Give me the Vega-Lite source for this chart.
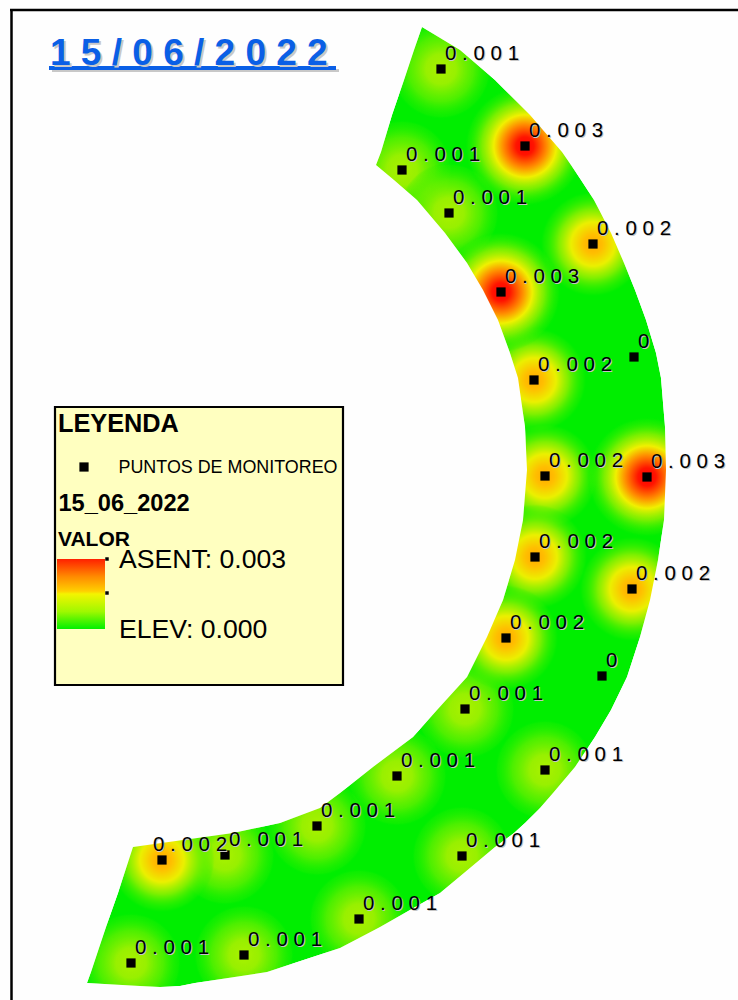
{
"$schema":"https://vega.github.io/schema/vega-lite/v6.json",
"width":738,"height":1000,
"autosize":{"type":"none"},
"padding":0,
"background":"#fefefe",
"config":{"view":{"stroke":null},"text":{"font":"Liberation Sans"}},
"datasets":{
"band":[
{"y":0,"l":422,"r":422},{"y":27,"l":422,"r":422},{"y":50,"l":414,"r":460},{"y":80,"l":404,"r":495},{"y":115,"l":392,"r":530},{"y":152,"l":381,"r":562},{"y":165,"l":376,"r":571},{"y":180,"l":394,"r":581},{"y":200,"l":417,"r":594},{"y":233,"l":445,"r":611},{"y":263,"l":467,"r":624},{"y":290,"l":483,"r":635},{"y":320,"l":498,"r":646},{"y":353,"l":510,"r":656},{"y":378,"l":518,"r":661},{"y":427,"l":525,"r":665},{"y":470,"l":527,"r":666},{"y":520,"l":523,"r":664},{"y":560,"l":515,"r":658},{"y":600,"l":503,"r":650},{"y":637,"l":487,"r":640},{"y":677,"l":467,"r":627},{"y":710,"l":437,"r":611},{"y":737,"l":413,"r":595},{"y":767,"l":373,"r":575},{"y":793,"l":340,"r":553},{"y":808,"l":320,"r":540},{"y":823,"l":280,"r":525},{"y":833,"l":233,"r":514},{"y":847,"l":133,"r":495},{"y":893,"l":118,"r":440},{"y":927,"l":106,"r":380},{"y":948,"l":99,"r":340},{"y":972,"l":91,"r":267},{"y":983,"l":87,"r":195},{"y":986,"l":140,"r":180},{"y":987,"l":160,"r":160},{"y":1000,"l":160,"r":160}
],
"points":[
{"x":441,"y":69,"value":0.001,"label":"0 . 0 0 1"},
{"x":525,"y":146,"value":0.003,"label":"0 . 0 0 3"},
{"x":402,"y":170,"value":0.001,"label":"0 . 0 0 1"},
{"x":449,"y":213,"value":0.001,"label":"0 . 0 0 1"},
{"x":593,"y":244,"value":0.002,"label":"0 . 0 0 2"},
{"x":501,"y":292,"value":0.003,"label":"0 . 0 0 3"},
{"x":634,"y":357,"value":0,"label":"0"},
{"x":534,"y":380,"value":0.002,"label":"0 . 0 0 2"},
{"x":545,"y":476,"value":0.002,"label":"0 . 0 0 2"},
{"x":647,"y":477,"value":0.003,"label":"0 . 0 0 3"},
{"x":535,"y":557,"value":0.002,"label":"0 . 0 0 2"},
{"x":632,"y":589,"value":0.002,"label":"0 . 0 0 2"},
{"x":506,"y":638,"value":0.002,"label":"0 . 0 0 2"},
{"x":602,"y":676,"value":0,"label":"0"},
{"x":465,"y":709,"value":0.001,"label":"0 . 0 0 1"},
{"x":545,"y":770,"value":0.001,"label":"0 . 0 0 1"},
{"x":397,"y":776,"value":0.001,"label":"0 . 0 0 1"},
{"x":317,"y":826,"value":0.001,"label":"0 . 0 0 1"},
{"x":225,"y":855,"value":0.001,"label":"0 . 0 0 1"},
{"x":162,"y":860,"value":0.002,"label":"0 . 0 0 2"},
{"x":462,"y":856,"value":0.001,"label":"0 . 0 0 1"},
{"x":359,"y":919,"value":0.001,"label":"0 . 0 0 1"},
{"x":244,"y":955,"value":0.001,"label":"0 . 0 0 1"},
{"x":131,"y":963,"value":0.001,"label":"0 . 0 0 1"}
]
},
"encoding":{
"x":{"field":"x","type":"quantitative","axis":null,"scale":{"domain":[0,738],"nice":false,"zero":false}},
"y":{"field":"y","type":"quantitative","axis":null,"scale":{"domain":[1000,0],"nice":false,"zero":false}}
},
"layer":[
{"data":{"name":"band"},"mark":{"type":"area","orient":"horizontal","color":"#00ee00"},
 "encoding":{"x":{"field":"l","type":"quantitative"},"x2":{"field":"r"}}},
{"data":{"name":"points"},"transform":[{"filter":"datum.value==0.001"}],
 "mark":{"type":"point","filled":true,"shape":"circle","size":10000,"opacity":1,
 "fill":{"gradient":"radial","x1":0.5,"y1":0.5,"r1":0,"x2":0.5,"y2":0.5,"r2":0.5,"stops":[
  {"offset":0,"color":"rgba(170,240,0,1)"},{"offset":0.3,"color":"rgba(160,240,0,0.95)"},{"offset":0.65,"color":"rgba(110,240,0,0.7)"},{"offset":0.95,"color":"rgba(50,240,0,0.25)"},{"offset":1,"color":"rgba(0,238,0,0)"}]}}},
{"data":{"name":"points"},"transform":[{"filter":"datum.value==0.002"}],
 "mark":{"type":"point","filled":true,"shape":"circle","size":11000,"opacity":1,
 "fill":{"gradient":"radial","x1":0.5,"y1":0.5,"r1":0,"x2":0.5,"y2":0.5,"r2":0.5,"stops":[
  {"offset":0,"color":"rgba(255,170,0,1)"},{"offset":0.18,"color":"rgba(255,190,0,1)"},{"offset":0.42,"color":"rgba(235,240,0,1)"},{"offset":0.65,"color":"rgba(150,240,0,0.85)"},{"offset":0.95,"color":"rgba(50,240,0,0.25)"},{"offset":1,"color":"rgba(0,238,0,0)"}]}}},
{"data":{"name":"points"},"transform":[{"filter":"datum.value==0.003"}],
 "mark":{"type":"point","filled":true,"shape":"circle","size":14400,"opacity":1,
 "fill":{"gradient":"radial","x1":0.5,"y1":0.5,"r1":0,"x2":0.5,"y2":0.5,"r2":0.5,"stops":[
  {"offset":0,"color":"rgba(255,0,0,1)"},{"offset":0.15,"color":"rgba(255,20,0,1)"},{"offset":0.36,"color":"rgba(255,140,0,1)"},{"offset":0.52,"color":"rgba(240,240,0,1)"},{"offset":0.72,"color":"rgba(150,240,0,0.8)"},{"offset":0.95,"color":"rgba(50,240,0,0.25)"},{"offset":1,"color":"rgba(0,238,0,0)"}]}}},
{"data":{"name":"band"},"mark":{"type":"area","orient":"horizontal","color":"#fefefe"},
 "encoding":{"x":{"field":"l","type":"quantitative"},"x2":{"datum":0}}},
{"data":{"name":"band"},"mark":{"type":"area","orient":"horizontal","color":"#fefefe"},
 "encoding":{"x":{"field":"r","type":"quantitative"},"x2":{"datum":738}}},
{"data":{"values":[{"x":11.5,"y":10,"y2":1000}]},"mark":{"type":"rule","color":"#000000","strokeWidth":2.5},"encoding":{"y2":{"field":"y2"}}},
{"data":{"values":[{"x":10,"x2":738,"y":10}]},"mark":{"type":"rule","color":"#000000","strokeWidth":2.5},"encoding":{"x2":{"field":"x2"}}},
{"data":{"name":"points"},"mark":{"type":"square","color":"#000000","filled":true,"opacity":1,"size":85}},
{"data":{"name":"points"},"transform":[{"filter":"datum.x!==162"}],"mark":{"type":"text","align":"left","baseline":"alphabetic","fontSize":20.5,"dx":5,"dy":-8,"color":"#c4c4c4"},"encoding":{"text":{"field":"label"}}},
{"data":{"name":"points"},"transform":[{"filter":"datum.x===162"}],"mark":{"type":"text","align":"left","baseline":"alphabetic","fontSize":20.5,"dx":-8,"dy":-8,"color":"#c4c4c4"},"encoding":{"text":{"field":"label"}}},
{"data":{"name":"points"},"transform":[{"filter":"datum.x!==162"}],"mark":{"type":"text","align":"left","baseline":"alphabetic","fontSize":20.5,"dx":4,"dy":-9,"color":"#000000"},"encoding":{"text":{"field":"label"}}},
{"data":{"name":"points"},"transform":[{"filter":"datum.x===162"}],"mark":{"type":"text","align":"left","baseline":"alphabetic","fontSize":20.5,"dx":-9,"dy":-9,"color":"#000000"},"encoding":{"text":{"field":"label"}}},
{"data":{"values":[{"x":52,"x2":339,"y":69,"y2":72}]},"mark":{"type":"rect","color":"#c8c8c8"},"encoding":{"x2":{"field":"x2"},"y2":{"field":"y2"}}},
{"data":{"values":[{"x":49,"x2":336,"y":66,"y2":70}]},"mark":{"type":"rect","color":"#0a5fe6"},"encoding":{"x2":{"field":"x2"},"y2":{"field":"y2"}}},
{"data":{"values":[{"x":52,"y":67,"t":"1 5 / 0 6 / 2 0 2 2"}]},"mark":{"type":"text","align":"left","baseline":"alphabetic","fontSize":37,"fontWeight":"bold","color":"#c8c8c8"},"encoding":{"text":{"field":"t"}}},
{"data":{"values":[{"x":50,"y":65,"t":"1 5 / 0 6 / 2 0 2 2"}]},"mark":{"type":"text","align":"left","baseline":"alphabetic","fontSize":37,"fontWeight":"bold","color":"#0a5fe6"},"encoding":{"text":{"field":"t"}}},
{"data":{"values":[{"x":55,"x2":343,"y":407,"y2":685}]},"mark":{"type":"rect","fill":"#ffffc0","stroke":"#000000","strokeWidth":2.2},"encoding":{"x2":{"field":"x2"},"y2":{"field":"y2"}}},
{"data":{"values":[{"x":57,"x2":105,"y":559,"y2":629}]},"mark":{"type":"rect","fill":{"gradient":"linear","x1":0,"y1":0,"x2":0,"y2":1,"stops":[{"offset":0,"color":"#ff2000"},{"offset":0.25,"color":"#ff8a00"},{"offset":0.46,"color":"#ffd000"},{"offset":0.5,"color":"#f4f400"},{"offset":0.75,"color":"#a0f800"},{"offset":1,"color":"#00f000"}]}},"encoding":{"x2":{"field":"x2"},"y2":{"field":"y2"}}},
{"data":{"values":[{"x":107,"y":559,"s":"a"},{"x":107,"y":593,"s":"b"}]},"mark":{"type":"square","color":"#000000","filled":true,"opacity":1,"size":12}},
{"data":{"values":[{"x":84,"y":467}]},"mark":{"type":"square","color":"#000000","filled":true,"opacity":1,"size":85}},
{"data":{"values":[{"x":58,"y":432,"t":"LEYENDA"}]},"mark":{"type":"text","align":"left","baseline":"alphabetic","fontSize":25.3,"fontWeight":"bold","color":"#000000"},"encoding":{"text":{"field":"t"}}},
{"data":{"values":[{"x":118.5,"y":473,"t":"PUNTOS DE MONITOREO"}]},"mark":{"type":"text","align":"left","baseline":"alphabetic","fontSize":17.9,"color":"#000000"},"encoding":{"text":{"field":"t"}}},
{"data":{"values":[{"x":58.5,"y":511,"t":"15_06_2022"}]},"mark":{"type":"text","align":"left","baseline":"alphabetic","fontSize":23.6,"fontWeight":"bold","color":"#000000"},"encoding":{"text":{"field":"t"}}},
{"data":{"values":[{"x":58,"y":546,"t":"VALOR"}]},"mark":{"type":"text","align":"left","baseline":"alphabetic","fontSize":21,"fontWeight":"bold","color":"#000000"},"encoding":{"text":{"field":"t"}}},
{"data":{"values":[{"x":119,"y":568,"t":"ASENT: 0.003"},{"x":119,"y":638,"t":"ELEV: 0.000"}]},"mark":{"type":"text","align":"left","baseline":"alphabetic","fontSize":26.6,"color":"#000000"},"encoding":{"text":{"field":"t"}}}
]
}
